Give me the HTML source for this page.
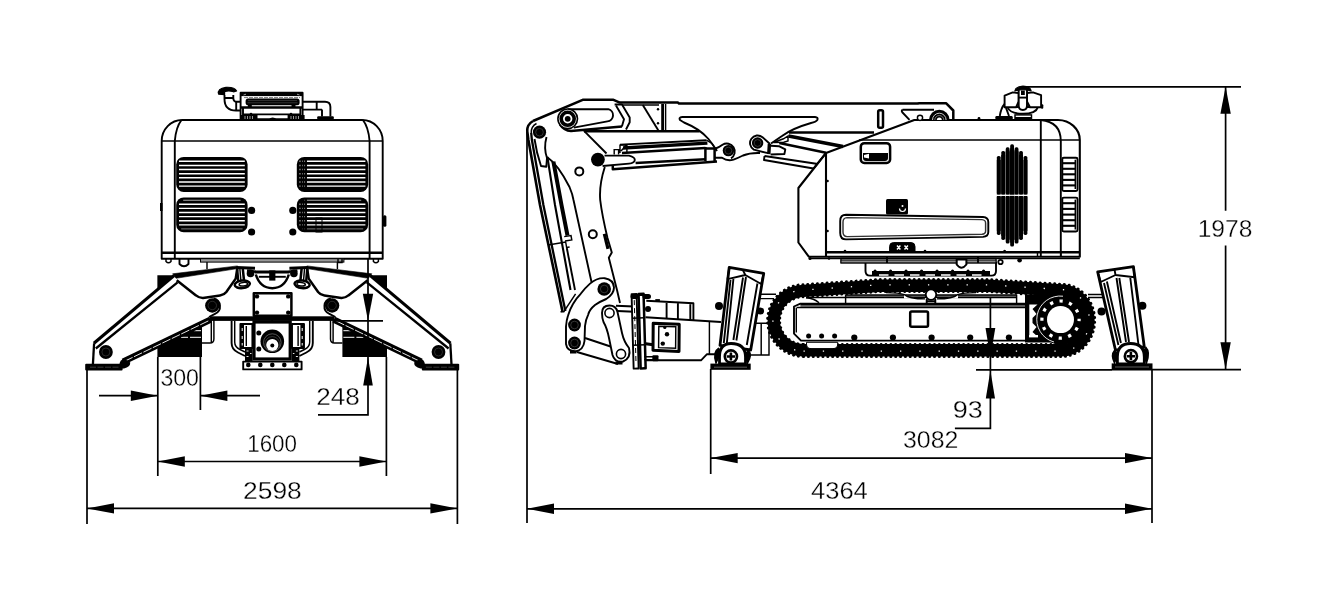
<!DOCTYPE html>
<html><head><meta charset="utf-8"><title>Dimensions</title>
<style>
html,body{margin:0;padding:0;background:#fff;}
body{width:1340px;height:599px;overflow:hidden;}
svg{display:block;filter:grayscale(1);}
.l{fill:none;stroke:#000;stroke-width:1.45;}
.l2{fill:none;stroke:#000;stroke-width:1.9;stroke-linejoin:round;}
.l3{fill:none;stroke:#000;stroke-width:2.5;stroke-linejoin:round;}
.w{fill:#fff;}
.d{fill:none;stroke:#000;stroke-width:1.7;}
text{font-family:"Liberation Sans",sans-serif;font-size:23px;fill:#000;stroke:#fff;stroke-width:0.3px;}
</style></head><body>
<svg width="1340" height="599" viewBox="0 0 1340 599">
<rect width="1340" height="599" fill="#fff"/>
<g id="front"><polygon points="157.4,275.3 174.5,275.3 157.4,290" fill="#000" stroke="none"/><polygon points="157.4,344 202,322.5 202,357 157.4,357" fill="#000" stroke="none"/><path d="M193.8,330.7H201 M181,337.3H188 M190,337.3H201" stroke="#fff" stroke-width="1"/><path d="M93.9,343.3 L174.1,275.6" class="l3" style="stroke-width:3.1"/><path d="M95.8,348.5 L177.6,282.3" class="l2" style="stroke-width:2.3"/><path d="M123.2,361.6 L210.6,319.6" stroke="#000" stroke-width="6.4"/><path d="M124.5,361.3 L209,320.6" stroke="#fff" stroke-width="0.9" stroke-dasharray="9 1.5"/><path d="M94.1,343.3 L92.9,364.5" class="l2" style="stroke-width:2.3"/><path d="M119.5,364 Q120,359.5 124.5,358.8 L130.3,362.5 Q130.3,367 124,368.6 L119,368.6 Z" fill="#000"/><rect x="85.2" y="363.8" width="37.4" height="6.6" rx="1" fill="#000" stroke="none"/><path d="M90,367.2H120" stroke="#555" stroke-width="0.7" stroke-dasharray="6 1.5"/><circle cx="105.9" cy="352" r="6.9" fill="#000" stroke="none"/><circle cx="105.9" cy="352" r="4" fill="none" stroke="#444" stroke-width="0.6"/><circle cx="212.3" cy="305.5" r="7.2" fill="#000" stroke="none"/><circle cx="212.3" cy="305.5" r="4.2" fill="none" stroke="#444" stroke-width="0.6"/><path d="M213.6,298.4 A8.1,8.1 0 0 1 215,313.8 L209,317" class="l2"/><polygon points="172.6,273.8 237.5,265.9 237.5,268.6 176,278.3" fill="#000" stroke="#000" stroke-width="0.6" stroke-linejoin="round"/><path d="M176.7,280.2 L196,295.4 Q199,298 203,297.9 L220,295.6 Q224,295 226.3,292 L235.7,278.6 L237.2,269" class="l3"/><path d="M237,267.3 L238.3,282.5 M242.7,268 L244.2,282.5" class="l3"/><path d="M239.8,268 L241,282" class="l"/><ellipse cx="242.3" cy="284.3" rx="7.6" ry="3.8" class="l3 w" transform="rotate(-6 242.3 284.3)"/><ellipse cx="243.3" cy="284.2" rx="4.2" ry="1.8" class="l" transform="rotate(-6 243.3 284.2)"/><path d="M236.5,267.6 L255,268.2" stroke="#000" stroke-width="3"/><path d="M247,270.5 L255.5,271.8" class="l3"/><circle cx="250.5" cy="273.4" r="3.8" fill="#000"/><rect x="210" y="316.3" width="63.19999999999999" height="4.6" fill="#000" stroke="none"/><path d="M211.3,320 V343 M213.9,320 V339 Q213.9,343 210,343 H202" class="l"/><path d="M231.6,321 V343 Q231.6,349.5 238,352.5 L245,356" class="l2"/><path d="M234.7,321 V342 Q234.7,347 240,349.5 L245,352" class="l"/><rect x="240.4" y="324" width="12" height="24" class="l2"/><rect x="240.4" y="324" width="3.6" height="24" fill="#000"/><path d="M242.2,328v3 M242.2,336v3 M242.2,343v2.5" stroke="#fff" stroke-width="1"/><path d="M246.3,326 V346" class="l"/><rect x="245" y="348" width="7.6" height="13.5" fill="#000"/><path d="M246.5,351h2 M246.5,356.5h2 M250,353.5h1.5" stroke="#fff" stroke-width="0.9"/><path d="M166,259 V261.5 Q168.5,264 171,261.5 V259" class="l"/><path d="M207,262 V269" class="l"/><rect x="176.2" y="156.9" width="71.4" height="35" rx="7.5" ry="7.5" fill="#000" stroke="none"/><path d="M179.0,161.30H244.79999999999998" stroke="#fff" stroke-width="1.4"/><path d="M179.0,165.43H244.79999999999998" stroke="#fff" stroke-width="1.4"/><path d="M179.0,169.56H244.79999999999998" stroke="#fff" stroke-width="1.4"/><path d="M179.0,173.69H244.79999999999998" stroke="#fff" stroke-width="1.4"/><path d="M179.0,177.82H244.79999999999998" stroke="#fff" stroke-width="1.4"/><path d="M179.0,181.95H244.79999999999998" stroke="#fff" stroke-width="1.4"/><path d="M179.0,186.08H244.79999999999998" stroke="#fff" stroke-width="1.4"/><rect x="176.2" y="197.4" width="71.4" height="34.8" rx="7.5" ry="7.5" fill="#000" stroke="none"/><path d="M179.0,204.20H244.79999999999998" stroke="#fff" stroke-width="1.4"/><path d="M179.0,208.33H244.79999999999998" stroke="#fff" stroke-width="1.4"/><path d="M179.0,212.46H244.79999999999998" stroke="#fff" stroke-width="1.4"/><path d="M179.0,216.59H244.79999999999998" stroke="#fff" stroke-width="1.4"/><path d="M179.0,220.72H244.79999999999998" stroke="#fff" stroke-width="1.4"/><path d="M179.0,224.85H244.79999999999998" stroke="#fff" stroke-width="1.4"/><path d="M183.2,200.20H240.6" stroke="#aaa" stroke-width="1.1"/><path d="M181.2,228.90H242.6" stroke="#999" stroke-width="0.8"/><circle cx="251.6" cy="210.4" r="3.6" fill="#000"/><circle cx="251.6" cy="232" r="3.6" fill="#000"/><path d="M181.5,120 Q176,127 174.8,141 V258.7" class="l2"/><g transform="translate(544.4,0) scale(-1,1)"><polygon points="157.4,275.3 174.5,275.3 157.4,290" fill="#000" stroke="none"/><polygon points="157.4,344 202,322.5 202,357 157.4,357" fill="#000" stroke="none"/><path d="M193.8,330.7H201 M181,337.3H188 M190,337.3H201" stroke="#fff" stroke-width="1"/><path d="M93.9,343.3 L174.1,275.6" class="l3" style="stroke-width:3.1"/><path d="M95.8,348.5 L177.6,282.3" class="l2" style="stroke-width:2.3"/><path d="M123.2,361.6 L210.6,319.6" stroke="#000" stroke-width="6.4"/><path d="M124.5,361.3 L209,320.6" stroke="#fff" stroke-width="0.9" stroke-dasharray="9 1.5"/><path d="M94.1,343.3 L92.9,364.5" class="l2" style="stroke-width:2.3"/><path d="M119.5,364 Q120,359.5 124.5,358.8 L130.3,362.5 Q130.3,367 124,368.6 L119,368.6 Z" fill="#000"/><rect x="85.2" y="363.8" width="37.4" height="6.6" rx="1" fill="#000" stroke="none"/><path d="M90,367.2H120" stroke="#555" stroke-width="0.7" stroke-dasharray="6 1.5"/><circle cx="105.9" cy="352" r="6.9" fill="#000" stroke="none"/><circle cx="105.9" cy="352" r="4" fill="none" stroke="#444" stroke-width="0.6"/><circle cx="212.3" cy="305.5" r="7.2" fill="#000" stroke="none"/><circle cx="212.3" cy="305.5" r="4.2" fill="none" stroke="#444" stroke-width="0.6"/><path d="M213.6,298.4 A8.1,8.1 0 0 1 215,313.8 L209,317" class="l2"/><polygon points="172.6,273.8 237.5,265.9 237.5,268.6 176,278.3" fill="#000" stroke="#000" stroke-width="0.6" stroke-linejoin="round"/><path d="M176.7,280.2 L196,295.4 Q199,298 203,297.9 L220,295.6 Q224,295 226.3,292 L235.7,278.6 L237.2,269" class="l3"/><path d="M237,267.3 L238.3,282.5 M242.7,268 L244.2,282.5" class="l3"/><path d="M239.8,268 L241,282" class="l"/><ellipse cx="242.3" cy="284.3" rx="7.6" ry="3.8" class="l3 w" transform="rotate(-6 242.3 284.3)"/><ellipse cx="243.3" cy="284.2" rx="4.2" ry="1.8" class="l" transform="rotate(-6 243.3 284.2)"/><path d="M236.5,267.6 L255,268.2" stroke="#000" stroke-width="3"/><path d="M247,270.5 L255.5,271.8" class="l3"/><circle cx="250.5" cy="273.4" r="3.8" fill="#000"/><rect x="210" y="316.3" width="63.19999999999999" height="4.6" fill="#000" stroke="none"/><path d="M211.3,320 V343 M213.9,320 V339 Q213.9,343 210,343 H202" class="l"/><path d="M231.6,321 V343 Q231.6,349.5 238,352.5 L245,356" class="l2"/><path d="M234.7,321 V342 Q234.7,347 240,349.5 L245,352" class="l"/><rect x="240.4" y="324" width="12" height="24" class="l2"/><rect x="240.4" y="324" width="3.6" height="24" fill="#000"/><path d="M242.2,328v3 M242.2,336v3 M242.2,343v2.5" stroke="#fff" stroke-width="1"/><path d="M246.3,326 V346" class="l"/><rect x="245" y="348" width="7.6" height="13.5" fill="#000"/><path d="M246.5,351h2 M246.5,356.5h2 M250,353.5h1.5" stroke="#fff" stroke-width="0.9"/><path d="M166,259 V261.5 Q168.5,264 171,261.5 V259" class="l"/><path d="M207,262 V269" class="l"/><rect x="176.2" y="156.9" width="71.4" height="35" rx="7.5" ry="7.5" fill="#000" stroke="none"/><path d="M179.0,161.30H244.79999999999998" stroke="#fff" stroke-width="1.4"/><path d="M179.0,165.43H244.79999999999998" stroke="#fff" stroke-width="1.4"/><path d="M179.0,169.56H244.79999999999998" stroke="#fff" stroke-width="1.4"/><path d="M179.0,173.69H244.79999999999998" stroke="#fff" stroke-width="1.4"/><path d="M179.0,177.82H244.79999999999998" stroke="#fff" stroke-width="1.4"/><path d="M179.0,181.95H244.79999999999998" stroke="#fff" stroke-width="1.4"/><path d="M179.0,186.08H244.79999999999998" stroke="#fff" stroke-width="1.4"/><rect x="176.2" y="197.4" width="71.4" height="34.8" rx="7.5" ry="7.5" fill="#000" stroke="none"/><path d="M179.0,204.20H244.79999999999998" stroke="#fff" stroke-width="1.4"/><path d="M179.0,208.33H244.79999999999998" stroke="#fff" stroke-width="1.4"/><path d="M179.0,212.46H244.79999999999998" stroke="#fff" stroke-width="1.4"/><path d="M179.0,216.59H244.79999999999998" stroke="#fff" stroke-width="1.4"/><path d="M179.0,220.72H244.79999999999998" stroke="#fff" stroke-width="1.4"/><path d="M179.0,224.85H244.79999999999998" stroke="#fff" stroke-width="1.4"/><path d="M183.2,200.20H240.6" stroke="#aaa" stroke-width="1.1"/><path d="M181.2,228.90H242.6" stroke="#999" stroke-width="0.8"/><circle cx="251.6" cy="210.4" r="3.6" fill="#000"/><circle cx="251.6" cy="232" r="3.6" fill="#000"/><path d="M181.5,120 Q176,127 174.8,141 V258.7" class="l2"/></g><path d="M161.7,258.7 V141 A20.5,21 0 0 1 182.2,120 H362.2 A20.5,21 0 0 1 382.7,141 V258.7 Z" class="l2"/><path d="M161.7,141H382.7" class="l"/><path d="M161.7,252.7H382.7" class="l3"/><rect x="200.5" y="258.7" width="143.4" height="3.4" fill="#999" stroke="#000" stroke-width="1"/><rect x="383" y="215.3" width="3.4" height="11.4" rx="1.5" fill="#000"/><path d="M179.5,259 V264 Q184,268.5 188.5,264 V259" class="l2"/><path d="M338,259 V262.5 H342 V259" class="l"/><rect x="160" y="203" width="2.5" height="8" fill="#000"/><path d="M301.3,160V189 M303.6,158V191 M306,158V191 M301.3,200V230 M303.6,198.5V232 M306,198V232" stroke="#000" stroke-width="1.9"/><rect x="316" y="218" width="6" height="14" fill="none" stroke="#000" stroke-width="1"/><rect x="240.6" y="92.8" width="62" height="26.5" class="l2 w"/><rect x="240.6" y="92.3" width="62" height="3.8" fill="#000"/><path d="M243.5,95 l2.5,-0.8 M297,94.2 l2.5,0.8" stroke="#fff" stroke-width="0.6"/><path d="M244,97.6H300" stroke="#555" stroke-width="0.8" stroke-dasharray="4 1"/><rect x="245.6" y="98.6" width="54" height="6.6" rx="2.5" fill="#000"/><path d="M248,100.6H297 M247.5,102.8H297.5" stroke="#666" stroke-width="0.5"/><rect x="247.8" y="104.5" width="4" height="3" fill="#000"/><rect x="291.5" y="104.5" width="4" height="3" fill="#000"/><path d="M240.6,107.6H302.6" class="l3"/><path d="M243,107.6V119 M300.4,107.6V119" class="l2"/><path d="M243,114.4H300.4" class="l2"/><path d="M240,115h17.5v4h-17.5z M287.6,115h17v4h-17z" fill="#000"/><path d="M245,116v3m2.5,-3v3m2.5,-3v3m2.5,-3v3 M291,116v3m2.5,-3v3m2.5,-3v3m2.5,-3v3" stroke="#fff" stroke-width="0.6"/><circle cx="251" cy="114" r="1.3" fill="#000"/><circle cx="291" cy="114" r="1.3" fill="#000"/><path d="M268.5,119.5 Q272.5,115.5 277,119.5 Z" fill="#000"/><path d="M224.5,95 V99 Q224.5,110.5 236,110.5 H240.6 M233.3,95 V98 Q233.3,101.8 237,101.8 H240.6" class="l2"/><path d="M224.5,98H233.3 M236.2,101.8V110.5" class="l2"/><path d="M218.6,94.2 Q217,88.5 226,87.3 Q234.5,86.8 236.6,91 L233.5,91.8 Q229,90.2 224.6,91.6 L224.6,94.6 Z" fill="#000" stroke="#000" stroke-width="1.2" stroke-linejoin="round"/><path d="M302.6,101.8 H325 Q330.4,101.8 330.4,107 V116.5 M302.6,109.6 H322 M316.7,101.8 V109.6 M322,109.6 V116.5" class="l2"/><rect x="317.2" y="116.2" width="16.6" height="3.4" rx="1" fill="#000"/><rect x="253.8" y="293.2" width="37.6" height="22.6" class="l3 w"/><circle cx="257.0" cy="296.4" r="2.2" fill="#000"/><circle cx="288.2" cy="296.4" r="2.2" fill="#000"/><circle cx="257.0" cy="312.59999999999997" r="2.2" fill="#000"/><circle cx="288.2" cy="312.59999999999997" r="2.2" fill="#000"/><rect x="254" y="322" width="36.2" height="37" fill="#fff" stroke="#000" stroke-width="3.2"/><circle cx="272.3" cy="341.3" r="11.8" fill="#000"/><circle cx="272.3" cy="342.6" r="8.8" fill="none" stroke="#777" stroke-width="0.7"/><circle cx="272.3" cy="344" r="7.4" fill="none" stroke="#555" stroke-width="0.6"/><circle cx="272.3" cy="345" r="6.1" fill="#fff"/><circle cx="272.3" cy="345.5" r="2" fill="#000"/><circle cx="258.8" cy="333" r="2.5" fill="#000"/><circle cx="258.8" cy="349" r="2.5" fill="#000"/><rect x="243.2" y="361.6" width="58.4" height="7.8" class="l2 w"/><circle cx="248.3" cy="364.9" r="2.3" fill="#000"/><circle cx="260.3" cy="364.9" r="2.3" fill="#000"/><circle cx="272.3" cy="364.9" r="2.3" fill="#000"/><circle cx="284.3" cy="364.9" r="2.3" fill="#000"/><circle cx="296.3" cy="364.9" r="2.3" fill="#000"/><path d="M255,272 H289.4" stroke="#000" stroke-width="3"/><path d="M258.8,276.8 H285.8" class="l2"/><path d="M255.8,274.5 Q260,288 272.3,288.2 Q284.6,288 288.8,274.5" class="l3"/><rect x="269.2" y="270.4" width="6.2" height="10.2" fill="#000"/></g>
<g id="side"><path d="M803.5,356.50 H1061 A33.20,36.10 0 0 0 1062,284.30 L988,279.50 L880,279.50 L803.5,284.70 A35.90,35.90 0 0 0 803.5,356.50 Z" fill="#000" stroke="none"/><path d="M803.5,356.50 H1061 A33.20,36.10 0 0 0 1062,284.30 L988,279.50 L880,279.50 L803.5,284.70 A35.90,35.90 0 0 0 803.5,356.50 Z" fill="none" stroke="#000" stroke-width="3" stroke-dasharray="0.1 4.75" stroke-linecap="round"/><path d="M803.5,344.10 H1061 A20.80,23.70 0 0 0 1062,296.70 L988,291.90 L880,291.90 L803.5,297.10 A23.50,23.50 0 0 0 803.5,344.10 Z" fill="#fff" stroke="none"/><path d="M803.5,344.30 H1061 A21.00,23.90 0 0 0 1062,296.50 L988,291.70 L880,291.70 L803.5,296.90 A23.70,23.70 0 0 0 803.5,344.30 Z" fill="none" stroke="#000" stroke-width="2.6" stroke-dasharray="0.1 4.75" stroke-linecap="round"/><path d="M803.5,351.20 H1061 A27.90,30.80 0 0 0 1062,289.60 L988,284.80 L880,284.80 L803.5,290.00 A30.60,30.60 0 0 0 803.5,351.20 Z" fill="none" stroke="#fff" stroke-width="1.3" stroke-dasharray="1.3 18" /><path d="M800.4,303.6 H1026 V340.6 H801 L794,333.6 V306.5 Z" class="l2 w"/><path d="M796.3,307.5 V332.5" class="l"/><path d="M800.4,306 H1026" stroke="#777" stroke-width="2.6"/><path d="M797,307.5 H1026 M800.4,304.6 H1026" class="l"/><path d="M845.6,296.2 H1016.6" stroke="#777" stroke-width="2.6"/><path d="M806,297.5 H1016.6 M845.6,294.9 H1016.6 M845.6,294.9 V303.6 M1016.6,294.9 V303.6" class="l"/><path d="M806,297.8 Q814,298.3 819,302.8" class="l"/><path d="M904,293.5 Q909,298.7 925,298.9 H937 Q953,298.7 958,293.5 V298.5 H904 Z" fill="#fff" stroke="none"/><path d="M886,292.6 Q899,292.8 904.5,294.6 Q909,298.7 925,298.9 M976,292.6 Q963,292.8 957.5,294.6 Q953,298.7 937,298.9" class="l"/><circle cx="808.6" cy="336" r="2.5" fill="#000"/><circle cx="821.6" cy="336" r="2.5" fill="#000"/><circle cx="834.6" cy="336" r="2.5" fill="#000"/><circle cx="854.3" cy="337.6" r="3.1" fill="#000"/><circle cx="892.9" cy="337.6" r="3.1" fill="#000"/><circle cx="931.6" cy="337.6" r="3.1" fill="#000"/><circle cx="970.2" cy="337.6" r="3.1" fill="#000"/><circle cx="1008.9" cy="337.6" r="3.1" fill="#000"/><path d="M806.5,342.3 V344 Q806.5,348.6 811,348.6 H833 Q837.7,348.6 837.7,344 V342.3 Z" fill="#fff" stroke="#000" stroke-width="1"/><rect x="910.2" y="311.5" width="17.8" height="15.3" rx="1.5" class="l3 w"/><path d="M926.7,299V304 M935.3,299V304 M926.7,301.3H935.3" class="l2"/><circle cx="931" cy="294.6" r="5.3" fill="#fff" stroke="#000" stroke-width="1.9"/><rect x="1025" y="294.5" width="38" height="48" fill="#000"/><ellipse cx="1061" cy="320" rx="22.5" ry="25" fill="#000"/><path d="M1029.3,304.5 H1037.5 L1032.5,309 L1036.5,314 L1032.5,318 V323 L1036.5,327 L1032.5,332 L1037.5,336.5 H1029.3 Z" fill="#fff"/><rect x="1029" y="335" width="9" height="2.4" fill="#fff"/><circle cx="1060.5" cy="319.6" r="18.6" fill="none" stroke="#fff" stroke-width="3.2" stroke-dasharray="3.3 6.44" stroke-dashoffset="1.6"/><circle cx="1060.5" cy="319.6" r="13.5" fill="#fff"/><path d="M1063,296.2 A23.4,23.4 0 0 0 1054,342" fill="none" stroke="#fff" stroke-width="0.9"/><path d="M865.5,262 V271 Q865.5,275.6 870,275.6 H991.5 Q996,275.6 996,271 V262" class="l2 w"/><path d="M872,273.6 H990" stroke="#000" stroke-width="5"/><path d="M879,275 H986" stroke="#fff" stroke-width="1.3" stroke-dasharray="9.5 6"/><path d="M875,271 H990" stroke="#000" stroke-width="3" stroke-dasharray="0.1 15.4" stroke-linecap="round"/><rect x="841" y="258.4" width="155" height="4.5" fill="#fff" stroke="#000" stroke-width="1.2"/><rect x="841" y="260" width="155" height="2.9" fill="#8a8a8a" stroke="#000" stroke-width="1"/><path d="M887,257V263 M978,257 V263" class="l2"/><path d="M956.7,259.6 V264.5 Q961.5,271 966.4,264.5 V259.6 Z" fill="#fff" stroke="#000" stroke-width="2"/><path d="M914.3,120 H1058 A21.8,20 0 0 1 1079.8,140 V256.7 H808.8 L798.4,242.5 V188 L826,153 Z" class="l2 w" style="stroke-width:2.1"/><path d="M859,140 H1079.8" class="l"/><path d="M826,153 V256.7" class="l2" style="stroke-width:2.1"/><path d="M809,258.5 H1079.8" class="l"/><path d="M826.5,252.3 H1079.8" class="l3"/><path d="M1040.8,120 V257" class="l2"/><path d="M1040.8,120 Q1060.8,122 1060.8,141 V257" class="l2"/><path d="M1037.5,252.5V256.5 M1060.8,251V257" class="l"/><circle cx="810" cy="258.5" r="1.6" fill="#000"/><circle cx="829" cy="258.5" r="1.3" fill="#000"/><circle cx="845" cy="251" r="1.3" fill="#000"/><circle cx="925" cy="251" r="1.3" fill="#000"/><circle cx="827.5" cy="181" r="1.3" fill="#000"/><circle cx="827.5" cy="231" r="1.3" fill="#000"/><circle cx="1000.5" cy="262" r="2.2" fill="#fff" stroke="#000" stroke-width="1.8"/><circle cx="1019.6" cy="260.3" r="2.3" fill="#000"/><circle cx="1004.6" cy="251.3" r="1.5" fill="#000"/><rect x="860.8" y="143.2" width="29.3" height="19.8" rx="3.5" class="l3 w"/><path d="M863,153 H888 V158 Q888,161 885,161 H866 Q863,161 863,158 Z" fill="#000"/><path d="M864,155 L869,153.8 L869,158.5 L864,157.5Z" fill="#fff"/><path d="M846,214.8 L983,217 Q988.3,217.3 988.3,222 V232 Q988.3,236.6 983,236.9 L846,239.4 Q840.2,239.4 840.2,233 V221 Q840.2,214.8 846,214.8Z" class="l2 w"/><path d="M847,217.6 L982,219.6 Q985.6,219.9 985.6,223 V231 Q985.6,234 982,234.3 L847,236.6 Q843,236.4 843,232 V222 Q843,217.8 847,217.6Z" class="l" style="stroke:#333"/><rect x="886" y="199" width="22" height="15.5" rx="1.5" fill="#000"/><path d="M899.5,208.5 A3,3 0 0 0 905.5,208.5" fill="none" stroke="#fff" stroke-width="1.2"/><circle cx="902.5" cy="206" r="1" fill="#fff"/><path d="M889.6,252.3 V246.5 Q889.6,242.6 893.5,242.6 H911 Q915,242.6 915,246.5 V252.3 Z" fill="#000" stroke="#000" stroke-width="1"/><path d="M897,245.6l3.4,3.8m0,-3.8l-3.4,3.8 M904.5,245.6l3.4,3.8m0,-3.8l-3.4,3.8" stroke="#fff" stroke-width="1.5"/><rect x="996.83" y="156" width="3.85" height="38.7" rx="1.6" fill="#000"/><rect x="996.83" y="195.9" width="3.85" height="39.0" rx="1.6" fill="#000"/><rect x="996.83" y="160" width="3.85" height="34.7" fill="#000"/><rect x="996.83" y="195.9" width="3.85" height="35.0" fill="#000"/><rect x="1001.28" y="151" width="3.85" height="43.7" rx="1.6" fill="#000"/><rect x="1001.28" y="195.9" width="3.85" height="44.0" rx="1.6" fill="#000"/><rect x="1001.28" y="155" width="3.85" height="39.7" fill="#000"/><rect x="1001.28" y="195.9" width="3.85" height="40.0" fill="#000"/><rect x="1005.73" y="147.3" width="3.85" height="47.4" rx="1.6" fill="#000"/><rect x="1005.73" y="195.9" width="3.85" height="47.7" rx="1.6" fill="#000"/><rect x="1005.73" y="151.3" width="3.85" height="43.4" fill="#000"/><rect x="1005.73" y="195.9" width="3.85" height="43.7" fill="#000"/><rect x="1010.18" y="144.3" width="3.85" height="50.4" rx="1.6" fill="#000"/><rect x="1010.18" y="195.9" width="3.85" height="50.7" rx="1.6" fill="#000"/><rect x="1010.18" y="148.3" width="3.85" height="46.4" fill="#000"/><rect x="1010.18" y="195.9" width="3.85" height="46.7" fill="#000"/><rect x="1014.63" y="147.3" width="3.85" height="47.4" rx="1.6" fill="#000"/><rect x="1014.63" y="195.9" width="3.85" height="47.7" rx="1.6" fill="#000"/><rect x="1014.63" y="151.3" width="3.85" height="43.4" fill="#000"/><rect x="1014.63" y="195.9" width="3.85" height="43.7" fill="#000"/><rect x="1019.08" y="151" width="3.85" height="43.7" rx="1.6" fill="#000"/><rect x="1019.08" y="195.9" width="3.85" height="44.0" rx="1.6" fill="#000"/><rect x="1019.08" y="155" width="3.85" height="39.7" fill="#000"/><rect x="1019.08" y="195.9" width="3.85" height="40.0" fill="#000"/><rect x="1023.53" y="156" width="3.85" height="38.7" rx="1.6" fill="#000"/><rect x="1023.53" y="195.9" width="3.85" height="39.0" rx="1.6" fill="#000"/><rect x="1023.53" y="160" width="3.85" height="34.7" fill="#000"/><rect x="1023.53" y="195.9" width="3.85" height="35.0" fill="#000"/><rect x="1009.8" y="150" width="4.6" height="90" fill="#000"/><path d="M996.5,195.3H1028" stroke="#fff" stroke-width="1.1"/><rect x="1062.3" y="157.7" width="15.2" height="33.30000000000001" rx="1.5" class="l2 w"/><path d="M1063,163.2H1075" stroke="#000" stroke-width="2.1"/><path d="M1063,168.8H1075" stroke="#000" stroke-width="2.1"/><path d="M1063,174.3H1075" stroke="#000" stroke-width="2.1"/><path d="M1063,179.9H1075" stroke="#000" stroke-width="2.1"/><path d="M1063,185.4H1075" stroke="#000" stroke-width="2.1"/><path d="M1075.3,159.7V189" stroke="#000" stroke-width="1.5"/><rect x="1062.3" y="197.6" width="15.2" height="33.900000000000006" rx="1.5" class="l2 w"/><path d="M1063,203.2H1075" stroke="#000" stroke-width="2.1"/><path d="M1063,208.9H1075" stroke="#000" stroke-width="2.1"/><path d="M1063,214.6H1075" stroke="#000" stroke-width="2.1"/><path d="M1063,220.2H1075" stroke="#000" stroke-width="2.1"/><path d="M1063,225.8H1075" stroke="#000" stroke-width="2.1"/><path d="M1075.3,199.6V229.5" stroke="#000" stroke-width="1.5"/><path d="M1007.4,107 Q1010,113.8 1023,113.8 Q1036,113.8 1038,107 Z" class="l2 w"/><path d="M1004.6,95.6 L1012.7,92.4 L1018.7,93 V101.5 L1016,107.3 H1004.6 Z" class="l2 w"/><path d="M1041.1,95.2 L1033,92.4 L1027,93 V101.5 L1030,107.3 H1041.1 Z" class="l2 w"/><path d="M1018.7,90 V105.5 Q1018.7,110 1022.9,110 Q1027,110 1027,105.5 V90" class="l2 w"/><path d="M1018.7,97.6H1027" class="l2"/><rect x="1021" y="90.5" width="3.8" height="4.5" fill="#000"/><path d="M1014.8,91 Q1015.5,86.6 1023,86.2 Q1030.5,86.6 1031.2,91 Q1023,88.5 1014.8,91 Z" fill="#000" stroke="#000" stroke-width="1.2" stroke-linejoin="round"/><rect x="1041" y="104.3" width="2.3" height="4.4" rx="1" fill="#000"/><rect x="1015" y="114.9" width="16.5" height="4.4" class="l w"/><rect x="1015" y="117" width="16.5" height="2.5" fill="#000"/><path d="M1004.6,104 Q1001,108 999.8,116 M1006,107.8 L1009,116" class="l2"/><rect x="995.4" y="116" width="17.3" height="3.5" rx="1.2" fill="#000"/><circle cx="979" cy="118.5" r="1.4" fill="#000"/><path d="M533,121 L582.7,99.8 H613.5 L619.8,102.6 H678 L679,103.6 H918 L919,103.2 H946 L953.3,110.5 V119.5" class="l3"/><path d="M929,120 A10.3,10.3 0 0 1 949.6,120 Z" fill="#000"/><path d="M932.5,120 A6.8,6.8 0 0 1 946.1,120" fill="none" stroke="#ddd" stroke-width="0.9"/><path d="M934.8,120 A4.5,4.5 0 0 1 943.8,120" fill="none" stroke="#999" stroke-width="0.7"/><path d="M936.8,120 A2.5,2.5 0 0 1 941.8,120 Z" fill="#fff"/><path d="M902.5,109.8 H934 M902.5,109.8 Q901,111 902.5,112.5 L909.5,119.8" class="l2"/><circle cx="920" cy="117.8" r="2.6" class="l w"/><rect x="878.2" y="110.2" width="4.8" height="17.6" rx="1.5" class="l3 w"/><path d="M584,131.3 H699.6" class="l3"/><path d="M789,132.6 H874" class="l3"/><path d="M614.6,104.5 H622 L629.7,117.6 V122.3 L626,129.5" class="l2"/><path d="M616,105.6 L624,119.2 L621.9,126.5" class="l2"/><path d="M622,105 H659" class="l"/><path d="M642.8,105 L658.4,130.5" class="l2"/><path d="M662.6,104 V130.5" stroke="#000" stroke-width="2.8"/><path d="M665.6,104 V130.5" class="l"/><circle cx="658" cy="109.3" r="1.2" fill="#000"/><circle cx="658" cy="123.3" r="1.2" fill="#000"/><path d="M584,130.9 L606.5,153.5" class="l2"/><path d="M567.7,109.2 L608.3,109.2 A6.2,6.2 0 0 1 607.4,121.4 L573.8,127.6" class="l2"/><path d="M560,124.5 Q564,130.5 571,131 L622,126.5" class="l3"/><circle cx="567.7" cy="118.8" r="9.8" fill="#fff" stroke="#000" stroke-width="1.6"/><circle cx="567.7" cy="118.8" r="6.5" fill="#fff" stroke="#000" stroke-width="3.6"/><circle cx="567.7" cy="118.8" r="2.9" fill="#000"/><path d="M682,117 H815 Q818.5,117.3 817.3,120 Q816,122 811,123 Q792,128.5 782,136 L771,143.5 M682,117 Q678.5,117.5 680,120 L684,122.5 Q700,129 708.5,139 Q714,146 717,151" class="l2"/><path d="M620,144.6 L706.4,140.2" class="l2"/><path d="M623,148 L707.4,143.2" stroke="#000" stroke-width="3.3"/><path d="M622,152.9 L705.4,148 M635.6,163 L705.4,159.2" class="l3"/><path d="M612.8,166 V169.3 L717,161.6" class="l3"/><path d="M604.5,155.6 L629,155.6 Q635,157 634.8,160 Q634.5,163 629,163.6 L602.6,166" class="l2"/><path d="M614.2,154.5 V149.6 H618.6 V154.5 M620,152.9 V144.6 M620,145 H626.9 V152.5 M621,151 L626,145.5" class="l"/><path d="M705.4,147 V161 M705.4,148.5 L714.6,148.5 V161.5" class="l3"/><path d="M706.4,140.2 L712,143.5 L716,150 " class="l"/><circle cx="597.9" cy="159.6" r="6.9" fill="#000"/><path d="M714.5,149 Q719,147.5 722.5,144.8 A8,8 0 1 1 731,158.4 M714.5,157.8 H722 Q727.5,161.5 733.5,159.6 Q738,158 743,155.5 Q750,152.6 760,153" class="l2"/><circle cx="728.4" cy="150.6" r="5.7" fill="#000"/><circle cx="728.4" cy="150.6" r="3.4" fill="none" stroke="#555" stroke-width="0.6"/><path d="M770,144 L762.5,137.2 A7.6,7.6 0 1 0 753.8,149.6 L768,153.2" class="l2"/><circle cx="757.6" cy="143" r="5.7" fill="#000"/><circle cx="757.6" cy="143" r="3.4" fill="none" stroke="#555" stroke-width="0.6"/><path d="M769.4,143.9 L768.8,154.2" stroke="#000" stroke-width="3.4"/><path d="M771,145.7 L778.9,146.2 L785.3,149.4 L784.4,154 L770.6,154.5" class="l2"/><path d="M764.5,156 L764,160 L813.5,168.5 L826,153 M764.5,156 L818,164" class="l2"/><path d="M788.5,136 L843,146.6" stroke="#000" stroke-width="3.6"/><path d="M779.3,143 L826,152.8" class="l3"/><path d="M773.4,142.5 L783.5,138.8 L788,136 V141 L783.8,142.3 Z" class="l"/><path d="M533,121 Q527,124.5 527.2,131" class="l3"/><path d="M527.2,131 L528.4,140 L540,205 L558,290 L562.6,312" stroke="#000" stroke-width="2.6" fill="none"/><path d="M531.2,133 L531.9,140 L543.4,205 L561,290 L565.4,311" stroke="#000" stroke-width="2.3" fill="none"/><path d="M536.5,123.5 Q531,126.5 531.2,133" class="l"/><circle cx="539.5" cy="132.2" r="6.6" fill="#000"/><circle cx="539.5" cy="132.2" r="3.8" fill="none" stroke="#555" stroke-width="0.6"/><path d="M534.5,139 Q536.5,153 541,166 L546.3,166.8 L547,158 Q543.5,148 546.5,137" class="l2"/><path d="M547.4,157 L555,205 L570.5,290" class="l2" style="stroke-width:2.1"/><path d="M553.4,161.7 L561.5,205 L567.5,235.5" stroke="#000" stroke-width="4" fill="none"/><path d="M566.8,248 L575,290" class="l2"/><path d="M548,245 L566,242 M564.2,236.6 L571,235.6 L571.8,240 L565,241 M565.5,241 L566.6,247.5 L569.6,247" class="l"/><path d="M547,157 Q558,164.5 569.5,187 Q572.5,194 573.5,200 L591.5,282" class="l2"/><path d="M604.8,167 Q599,185 600.2,200 Q602,215 607.5,238 M607.5,238 L611.8,252.5 L608.8,257.8 L617,290 L620,303" class="l2"/><path d="M604.3,233.8 L608,248.8" stroke="#000" stroke-width="3.2"/><circle cx="579.3" cy="171.4" r="4" fill="#fff" stroke="#000" stroke-width="2"/><circle cx="592.8" cy="234.2" r="4" fill="#fff" stroke="#000" stroke-width="2"/><path d="M560.5,311.7 H563.8 L575.6,293.8" class="l"/><path d="M590,283.6 Q597,277.6 604.8,278.2 Q613.5,279.5 614,287.5 Q614,294 606.2,299 Q599,302 595,305 Q589.5,309.5 588.3,314.3 Q585.5,320 585,326 L584.5,341 Q583.5,350 575.5,351.5 Q567,351 566,344 L566,326.5 Q566.5,320 567.9,316 Q570,309 573,304 Q576,298.5 580.7,293.8 Q585,288 590,283.6 Z" class="l2 w"/><circle cx="604.2" cy="289" r="6.8" fill="#000"/><circle cx="604.2" cy="289" r="3.8" fill="none" stroke="#555" stroke-width="0.6"/><circle cx="574.5" cy="325" r="6.4" fill="#000"/><circle cx="574.5" cy="325" r="3.8" fill="none" stroke="#555" stroke-width="0.6"/><circle cx="574.5" cy="343" r="6.4" fill="#000"/><circle cx="574.5" cy="343" r="3.8" fill="none" stroke="#555" stroke-width="0.6"/><rect x="570" y="350.5" width="6.5" height="3" fill="#000"/><path d="M585,338 L612,347 M577,352 L618,364" class="l2"/><path d="M602,313 Q602,305.5 609.5,305.5 Q616,305.5 617.5,312 L622,333 Q624,342 629,348 Q631.5,358 623,361.5 Q615,363 612.5,355 L609,338 Q607,328 603.5,322 Q602,318 602,313 Z" class="l2 w"/><circle cx="609.5" cy="313" r="4.6" fill="#fff" stroke="#000" stroke-width="1.6"/><circle cx="621" cy="354" r="4.6" fill="#fff" stroke="#000" stroke-width="1.6"/><rect x="615.5" y="361.5" width="7" height="3" fill="#000"/><path d="M616,305.8 L634,306.5 M617.5,311 L634,311.8" class="l2"/><g transform="rotate(-1.6 639 331)"><rect x="632.6" y="294" width="5" height="74.5" class="l2 w"/><rect x="639.6" y="294" width="5" height="74.5" class="l3 w"/><path d="M635.1,300 V364" stroke="#000" stroke-width="1" stroke-dasharray="5 3"/><path d="M632.6,318H644.6 M632.6,345H644.6" class="l"/></g><path d="M633,296.4 H636 M645,296.4 H648.5" stroke="#000" stroke-width="5" stroke-linecap="round"/><path d="M634,295 H647" stroke="#000" stroke-width="2"/><circle cx="648" cy="309" r="3" fill="#000"/><path d="M645.5,317.3 L721,322 M645,360.3 L701,360.3 L707,354.2 H716" class="l2"/><path d="M646.3,300.8 L693.4,303.3 V320.3 M666.6,302 V318.6 M677.9,302.6 V319.3 M690.3,303.2 V320" class="l2"/><path d="M655.3,300.3 h4.6" stroke="#000" stroke-width="2.4"/><path d="M653.2,323.2 L679.2,324.2 L679,351.4 L653,350.2 Z" stroke="#000" stroke-width="3" fill="#fff" stroke-linejoin="round"/><path d="M658.8,326.2 L675.8,326.8 L675.6,348.2 L658.6,347.6 Z" class="l w"/><circle cx="664.8" cy="327.4" r="1.6" fill="#000"/><circle cx="667" cy="334.3" r="2.2" fill="#000"/><circle cx="662.8" cy="343.6" r="2.2" fill="#000"/><path d="M644,343.6 L653,344.8" stroke="#000" stroke-width="3"/><path d="M644,356.8 H653 M644,359.6 H653" class="l"/><rect x="652.3" y="355.2" width="6.2" height="6" rx="1" fill="#000"/><path d="M709.4,321.4 V354" class="l"/><path d="M757,294.2 H776 M757,298.6 H774" class="l"/><path d="M750,323.3 H769 V355 H748 M761.2,323.3 V355" class="l"/><circle cx="719" cy="306" r="4" fill="#000"/><circle cx="760.5" cy="311" r="3.6" fill="#000"/><path d="M729.2,267.3 L763.7,273.4 L750.7,350 L720,345.4 Z" class="l3 w" style="stroke-width:2.8"/><path d="M729.2,267.3 L727.6,279.2 L745.3,275 L761.2,284 L763.7,273.4 M745.3,275 L742.8,269.8" class="l2"/><path d="M730.5,280 L723.8,343 M733.4,279 L726.8,343.5 M743,277.5 L733.4,340 M746,277 L736.4,340.5 M757.4,283.5 L746.8,345" class="l2"/><path d="M716,363 Q712.5,352 718.5,348.5 L721,352 Z M747.5,363 Q752.5,355 748.5,350.5 L745,354 Z" fill="#000" stroke="#000" stroke-width="1.5"/><path d="M719.5,364 V357 Q719.5,343.5 731,343.5 Q745.5,343.5 745.5,357 V364 Z" class="l3 w" style="stroke-width:2.8"/><circle cx="730.9" cy="356.5" r="6.1" fill="#fff" stroke="#000" stroke-width="2.6"/><path d="M730.9,352.4V360.6 M726.8,356.5H735" stroke="#000" stroke-width="2.6"/><rect x="710.4" y="363.6" width="40.3" height="6.2" fill="#000"/><path d="M714,367.2H747" stroke="#888" stroke-width="0.7"/><path d="M1088,294.5 H1104 M1088,297.4 H1105" class="l"/><circle cx="1101.5" cy="311.4" r="4" fill="#000"/><circle cx="1142.4" cy="305.7" r="4" fill="#000"/><path d="M1097.7,271.9 L1133.4,266.7 L1144.3,347 L1115.5,350.2 Z" class="l3 w" style="stroke-width:2.8"/><path d="M1097.7,271.9 L1100.7,282 L1115.5,275 L1134.7,277.3 L1133.4,266.7 M1115.5,275 L1114.5,269.5" class="l2"/><path d="M1104,283 L1118.4,345 M1106.9,281.5 L1120.9,343 M1116.5,278 L1126,342 M1119.3,278 L1129,342 M1130.3,278 L1138.5,345" class="l2"/><path d="M1114.5,363 Q1110.5,355 1114.5,350.5 L1118,354.5 Z M1146.5,363 Q1150.5,352 1146,347.5 L1143,352 Z" fill="#000" stroke="#000" stroke-width="1.5"/><path d="M1117.4,364 V357 Q1117.4,343.5 1130.5,343.5 Q1144.3,343.5 1144.3,357 V364 Z" class="l3 w" style="stroke-width:2.8"/><circle cx="1130.9" cy="356.2" r="6.1" fill="#fff" stroke="#000" stroke-width="2.6"/><path d="M1130.9,352.1V360.3 M1126.8,356.2H1135" stroke="#000" stroke-width="2.6"/><rect x="1111.7" y="363.4" width="40.8" height="6.3" fill="#000"/><path d="M1115,367H1149" stroke="#888" stroke-width="0.7"/></g>
<g id="dims"><path d="M87,366.5V524 M457.4,366.5V524 M157.8,357V476 M386.4,357V476 M200.4,357V410" class="d"/><path d="M87,508.4H457.4 M157.8,461.5H386.4 M99,395.7H157.8 M200.4,395.7H260" class="d"/><polygon points="87,508.4 114,503.2 114,513.6" fill="#000"/><polygon points="457.4,508.4 430.4,503.2 430.4,513.6" fill="#000"/><polygon points="157.8,461.5 184.8,456.3 184.8,466.7" fill="#000"/><polygon points="386.4,461.5 359.4,456.3 359.4,466.7" fill="#000"/><polygon points="157.8,395.7 130.8,390.5 130.8,400.9" fill="#000"/><polygon points="200.4,395.7 227.4,390.5 227.4,400.9" fill="#000"/><path d="M368,259V414.8H318 M334,320.8H383" class="d"/><polygon points="368,320.8 362.8,293.8 373.2,293.8" fill="#000"/><polygon points="368,357.5 363.2,385.5 372.8,385.5" fill="#000"/><path d="M527,129V523 M1152,369V523 M710.7,369V474" class="d"/><path d="M527,508.8H1152 M710.7,458.1H1152" class="d"/><polygon points="527,508.8 554,503.6 554,514.0" fill="#000"/><polygon points="1152,508.8 1125,503.6 1125,514.0" fill="#000"/><polygon points="710.7,458.1 737.7,452.90000000000003 737.7,463.3" fill="#000"/><polygon points="1152,458.1 1125,452.90000000000003 1125,463.3" fill="#000"/><path d="M1112,369.7H1241 M1022.7,86.8H1241 M1225.6,86.8V210.7 M1225.6,245.6V369.3" class="d"/><polygon points="1225.6,86.8 1220.3999999999999,113.8 1230.8,113.8" fill="#000"/><polygon points="1225.6,369.3 1220.3999999999999,342.3 1230.8,342.3" fill="#000"/><path d="M976,369.9H1112 M990.4,297.5V428.4H954.9" class="d"/><polygon points="990.4,357.5 985.5,328.0 995.3,328.0" fill="#000"/><polygon points="990.4,370.5 985.8,398.5 995.0,398.5" fill="#000"/><text x="160.4" y="385.5" textLength="38.6" lengthAdjust="spacingAndGlyphs">300</text><text x="316.3" y="405.1" textLength="43.5" lengthAdjust="spacingAndGlyphs">248</text><text x="247.2" y="451.9" textLength="49.8" lengthAdjust="spacingAndGlyphs">1600</text><text x="243.0" y="498.8" textLength="58.8" lengthAdjust="spacingAndGlyphs">2598</text><text x="952.8" y="418.3" textLength="30.1" lengthAdjust="spacingAndGlyphs">93</text><text x="903.0" y="447.7" textLength="55.4" lengthAdjust="spacingAndGlyphs">3082</text><text x="811.0" y="498.8" textLength="56.8" lengthAdjust="spacingAndGlyphs">4364</text><text x="1197.7" y="236.6" textLength="54.6" lengthAdjust="spacingAndGlyphs">1978</text></g>
</svg>
</body></html>
